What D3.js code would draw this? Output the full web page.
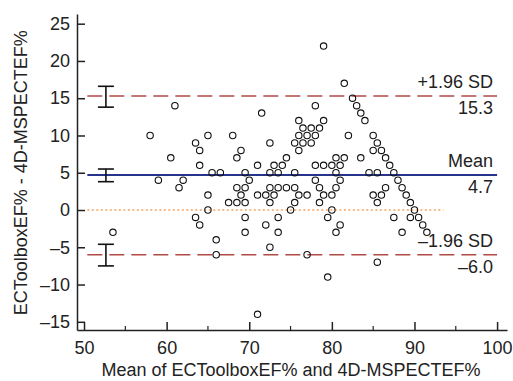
<!DOCTYPE html>
<html>
<head>
<meta charset="utf-8">
<script src="https://cdn.jsdelivr.net/npm/d3@7"></script>
<style>
  html, body { margin: 0; padding: 0; background: #fff; }
  svg { display: block; font-family: 'Liberation Sans', Arial, Helvetica, sans-serif; }
</style>
</head>
<body>
<div id="chart"></div>
<script>
// Bland-Altman data: mean of both methods (x) and difference (y)
const meanVals = [
  53.5, 58, 59, 60.5, 61, 61.5, 62, 63.5, 64, 64, 65, 65.5, 66.5, 65, 65, 63.5, 64, 66, 66,
  67.5, 68.5, 69.5, 68, 68.5, 69, 69.5, 70, 68.5, 69.5, 69, 69.5, 69.5,
  71, 71.5, 72.5, 72.5, 73.5, 73, 74, 74.5, 75.5, 72.5, 73.5, 74.5, 75.5, 71, 72, 73,
  72.5, 75.5, 75, 76, 77, 73.5, 72, 73.5, 72.5, 77, 71,
  76, 76.5, 77.5, 78.5, 79, 76, 77, 78, 75.5, 76.5, 77.5, 76, 78, 79,
  78, 79, 80, 81, 78, 78.5, 79, 80, 78.5, 80, 79.5, 81, 80.5, 79.5,
  80.5, 81.5, 80.5, 81, 80.5,
  81.5, 82.5, 83, 83.5, 84, 82, 85, 85.5, 85, 86, 86.5, 87, 87.5, 88, 88.5, 89, 89.5, 90,
  89.5, 90.5, 91, 91.5, 83.5, 84.5, 85.5, 86.5, 85, 86, 85.5, 87.5, 88.5, 85.5
];
const diffVals = [
  -3, 10, 4, 7, 14, 3, 4, 9, 8, 6, 10, 5, 5, 2, 0, -1, -2, -4, -6,
  1, 1, 1, 10, 7, 8, 5, 4, 3, 3, 2, -1, -3,
  6, 13, 9, 5, 5, 6, 6, 7, 5, 3, 3, 3, 3, 2, 2, 2,
  1, 1, 0, 2, 2, -1, -2, -3, -5, -6, -14,
  12, 11, 11, 11, 12, 10, 10, 10, 9, 9, 9, 8, 14, 22,
  6, 6, 6, 6, 4, 3, 2, 2, 1, 0, -1, -2, -3, -9,
  7, 7, 5, 4, 3,
  17, 15, 14, 13, 12, 10, 10, 9, 8, 8, 7, 6, 5, 4, 3, 2, 1, 0,
  -1, -1, -2, -3, 7, 5, 5, 3, 2, 2, 1, -1, -3, -7
];

// limits of agreement and their confidence intervals
const meanDiff = 4.7;
const upperLoA = 15.3;
const lowerLoA = -6.0;
const ciX = 52.65;
const ciRanges = [[13.8, 16.6], [3.8, 5.5], [-7.5, -4.6]];

const xTicks = [50, 60, 70, 80, 90, 100];
const xMinorTicks = [55, 65, 75, 85, 95];
const yTicks = [-15, -10, -5, 0, 5, 10, 15, 20, 25];

const data = meanVals.map((m, i) => ({ m, d: diffVals[i] }));

const size = { width: 513, height: 381 };
const textColor = '#222';

const svg = d3.select('#chart').append('svg')
  .attr('width', size.width)
  .attr('height', size.height);

const x = d3.scaleLinear().domain([49.15, 101.2]).range([77, 507]);
const y = d3.scaleLinear().domain([-16.1, 26.3]).range([330, 14]);

const fmtTick = (d) => (d < 0 ? '\u2013' + Math.abs(d) : d);

// Axes (ticks point inward)
const xAxis = svg.append('g')
  .attr('transform', `translate(0, ${y.range()[0]})`)
  .call(d3.axisBottom(x).tickValues(xTicks).tickSizeInner(-8).tickSizeOuter(0).tickPadding(11));
const yAxis = svg.append('g')
  .attr('transform', `translate(${x.range()[0]}, 0)`)
  .call(d3.axisLeft(y).tickValues(yTicks).tickFormat(fmtTick).tickSizeInner(-8).tickSizeOuter(0).tickPadding(7));

[xAxis, yAxis].forEach((g) => {
  g.selectAll('path, line').attr('stroke', textColor).attr('stroke-width', 1.5);
  g.selectAll('text').attr('fill', textColor).style('font-size', '18px');
});
xAxis.selectAll('text').attr('dy', '0.72em');

svg.append('g')
  .selectAll('line')
  .data(xMinorTicks)
  .enter()
  .append('line')
  .attr('x1', (d) => x(d))
  .attr('x2', (d) => x(d))
  .attr('y1', y.range()[0])
  .attr('y2', y.range()[0] - 4)
  .attr('stroke', textColor)
  .attr('stroke-width', 1.2);

// Axis titles
svg.append('text')
  .text('Mean of ECToolboxEF% and 4D-MSPECTEF%')
  .attr('x', 291)
  .attr('y', 376)
  .attr('text-anchor', 'middle')
  .attr('fill', textColor)
  .style('font-size', '18px');

svg.append('text')
  .text('ECToolboxEF% - 4D-MSPECTEF%')
  .attr('transform', `translate(27, ${y(5)}) rotate(-90)`)
  .attr('text-anchor', 'middle')
  .attr('fill', textColor)
  .style('font-size', '18px');

// Reference lines
const lineStart = 50.4;
const lineEnd = 100;

svg.append('line')
  .attr('x1', x(lineStart)).attr('x2', x(93.5))
  .attr('y1', y(0)).attr('y2', y(0))
  .attr('stroke', '#f7a35c')
  .attr('stroke-width', 1.6)
  .attr('stroke-dasharray', '2,2.5');

[upperLoA, lowerLoA].forEach((v) => {
  svg.append('line')
    .attr('x1', x(lineStart)).attr('x2', x(lineEnd))
    .attr('y1', y(v)).attr('y2', y(v))
    .attr('stroke', '#b04a47')
    .attr('stroke-width', 1.5)
    .attr('stroke-dasharray', '15,7');
});

svg.append('line')
  .attr('x1', x(lineStart)).attr('x2', x(lineEnd))
  .attr('y1', y(meanDiff)).attr('y2', y(meanDiff))
  .attr('stroke', '#27348b')
  .attr('stroke-width', 1.8);

// Confidence interval bars
const capW = 8;
const ci = svg.append('g').attr('stroke', '#111').attr('stroke-width', 1.6);
ciRanges.forEach(([lo, hi]) => {
  ci.append('line').attr('x1', x(ciX)).attr('x2', x(ciX)).attr('y1', y(lo)).attr('y2', y(hi));
  ci.append('line').attr('x1', x(ciX) - capW).attr('x2', x(ciX) + capW).attr('y1', y(lo)).attr('y2', y(lo));
  ci.append('line').attr('x1', x(ciX) - capW).attr('x2', x(ciX) + capW).attr('y1', y(hi)).attr('y2', y(hi));
});

// Points
svg.append('g')
  .selectAll('circle')
  .data(data)
  .enter()
  .append('circle')
  .attr('cx', (d) => x(d.m))
  .attr('cy', (d) => y(d.d))
  .attr('r', 3.2)
  .attr('fill', 'none')
  .attr('stroke', '#111')
  .attr('stroke-width', 1.1);

// Line labels
const labels = [
  { top: '+1.96 SD', bottom: upperLoA.toFixed(1), v: upperLoA },
  { top: 'Mean', bottom: meanDiff.toFixed(1), v: meanDiff },
  { top: '\u20131.96 SD', bottom: '\u2013' + Math.abs(lowerLoA).toFixed(1), v: lowerLoA },
];
labels.forEach((l) => {
  svg.append('text')
    .text(l.top)
    .attr('x', 493)
    .attr('y', y(l.v) - 8)
    .attr('text-anchor', 'end')
    .attr('fill', textColor)
    .style('font-size', '18px');
  svg.append('text')
    .text(l.bottom)
    .attr('x', 493)
    .attr('y', y(l.v) + 18)
    .attr('text-anchor', 'end')
    .attr('fill', textColor)
    .style('font-size', '18px');
});
</script>
</body>
</html>
